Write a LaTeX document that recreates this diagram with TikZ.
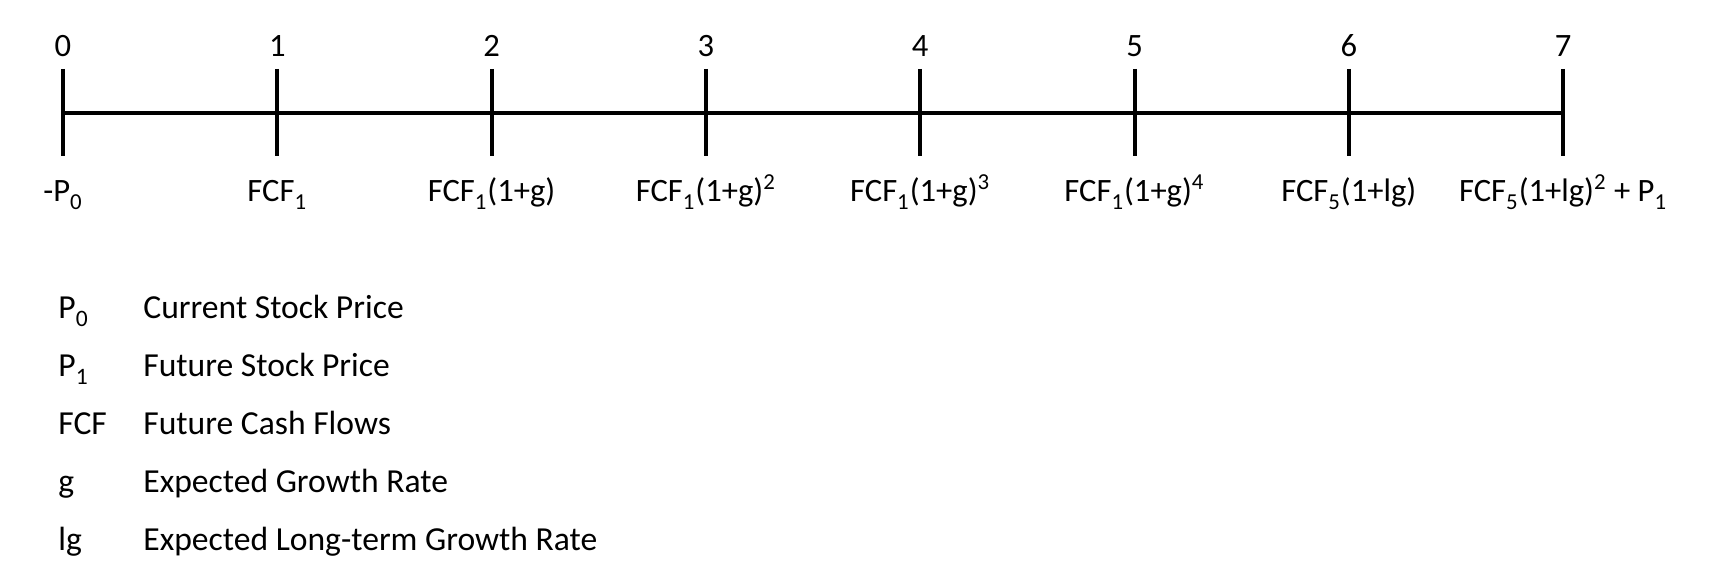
\documentclass[tikz,border=0pt]{standalone}
\usepackage{fontspec}
\setmainfont{Carlito}
\newcommand\sbs[1]{\raisebox{-0.06em}{\textsubscript{#1}}}
\begin{document}
\begin{tikzpicture}[x=0.5pt,y=-0.5pt,
  txt/.style={inner sep=0pt,font=\fontsize{16.3}{19}\selectfont},
  lbl/.style={txt,anchor=base},
  key/.style={txt,anchor=base west,font=\fontsize{16.8}{20}\selectfont},
  axis/.style={line width=2pt}]
  \useasboundingbox (0,0) rectangle (1709,582);
  % time line
  \foreach \i/\cf in {0/{-P\sbs{0}},
                      1/{FCF\sbs{1}},
                      2/{FCF\sbs{1}(1+g)},
                      3/{FCF\sbs{1}(1+g)\textsuperscript{2}},
                      4/{FCF\sbs{1}(1+g)\textsuperscript{3}},
                      5/{FCF\sbs{1}(1+g)\textsuperscript{4}},
                      6/{FCF\sbs{5}(1+lg)},
                      7/{FCF\sbs{5}(1+lg)\textsuperscript{2} + P\sbs{1}}} {
    \coordinate (t\i) at (63+214.3*\i,113);
    \coordinate (up\i) at (63+214.3*\i,69);
    \coordinate (dn\i) at (63+214.3*\i,156);
    \draw[axis] (up\i) -- (dn\i);
    \node[lbl] (n\i) at (63+214.3*\i,57) {\i};
    \node[lbl] (c\i) at (63+214.3*\i,202) {\cf};
  }
  \draw[axis] (t0) -- (t7);
  % legend
  \foreach \j/\sym/\txt in {0/{P\sbs{0}}/{Current Stock Price},
                            1/{P\sbs{1}}/{Future Stock Price},
                            2/{FCF}/{Future Cash Flows},
                            3/{g}/{Expected Growth Rate},
                            4/{lg}/{Expected Long-term Growth Rate}} {
    \node[key] (s\j) at (58,319+58*\j) {\sym};
    \node[key] (d\j) at (143,319+58*\j) {\txt};
  }
\end{tikzpicture}
\end{document}
